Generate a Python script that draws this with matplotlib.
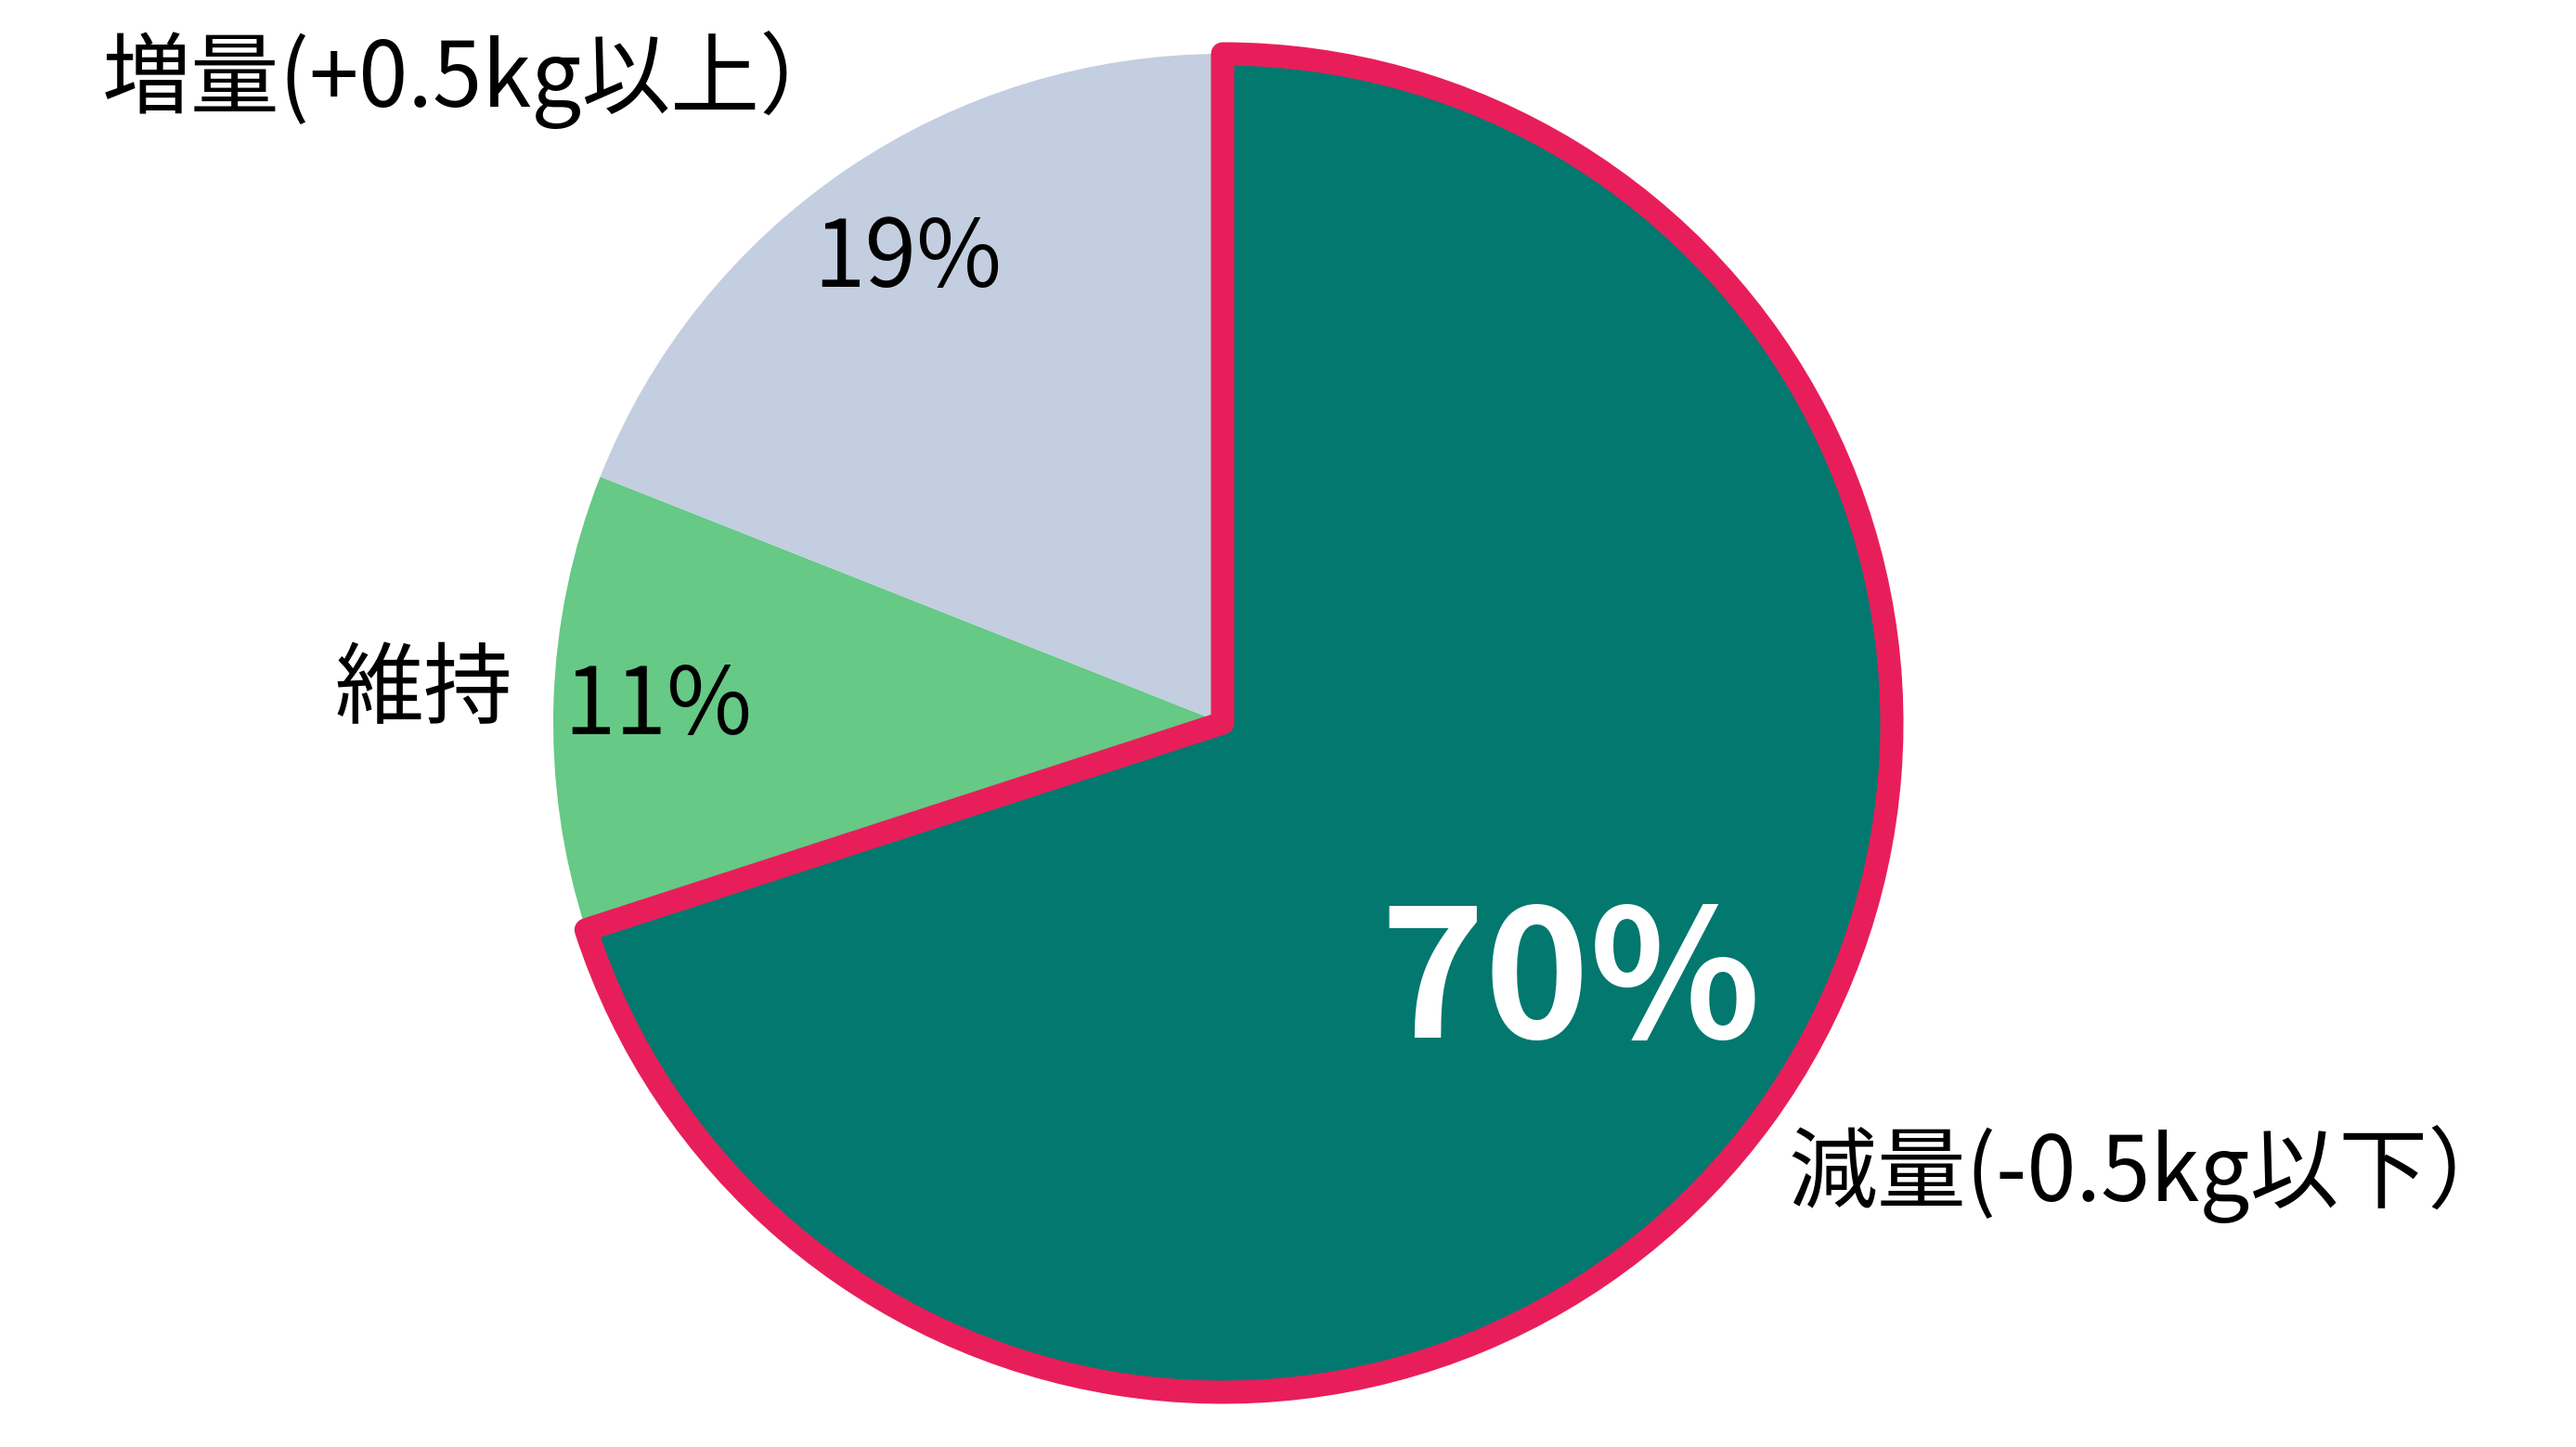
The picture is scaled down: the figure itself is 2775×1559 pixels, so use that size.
import matplotlib
matplotlib.use("Agg")
import matplotlib.pyplot as plt

plt.rcParams['font.family'] = ['Noto Sans CJK JP', 'DejaVu Sans']

# Data
labels = ['減量(-0.5kg以下）', '維持', '増量(+0.5kg以上）']
values = [70, 11, 19]
pct_labels = ['70%', '11%', '19%']
colors = ['#02786F', '#66C986', '#C3CEE0']

W, H = 2775, 1559
fig = plt.figure(figsize=(W / 100, H / 100), dpi=100)
ax = fig.add_axes([0, 0, 1, 1])

cx, cy, r = 1317, H - 779, 721
wedges, _ = ax.pie(values, colors=colors, startangle=90, counterclock=False,
                   center=(cx, cy), radius=r, frame=True)
ax.set_xlim(0, W)
ax.set_ylim(0, H)
ax.set_aspect('equal')
ax.axis('off')

# highlight the largest slice
wedges[0].set_edgecolor('#E81E5A')
wedges[0].set_linewidth(18)
wedges[0].set_joinstyle('round')
wedges[0].set_zorder(5)

# category labels
ax.text(512, H - 86, labels[2], fontsize=69, ha='center', va='center', color='black')
ax.text(456, H - 744, labels[1], fontsize=69, ha='center', va='center', color='black')
ax.text(2319, H - 1265, labels[0], fontsize=69, ha='center', va='center', color='black')

# percentages
ax.text(978, H - 280, pct_labels[2], fontsize=72, ha='center', va='center', color='black')
ax.text(709, H - 762, pct_labels[1], fontsize=72, ha='center', va='center', color='black')
ax.text(1692, H - 1062, pct_labels[0], fontsize=138, fontweight='bold',
        ha='center', va='center', color='white', zorder=10)

fig.savefig('out.png', dpi=100, facecolor='white')
